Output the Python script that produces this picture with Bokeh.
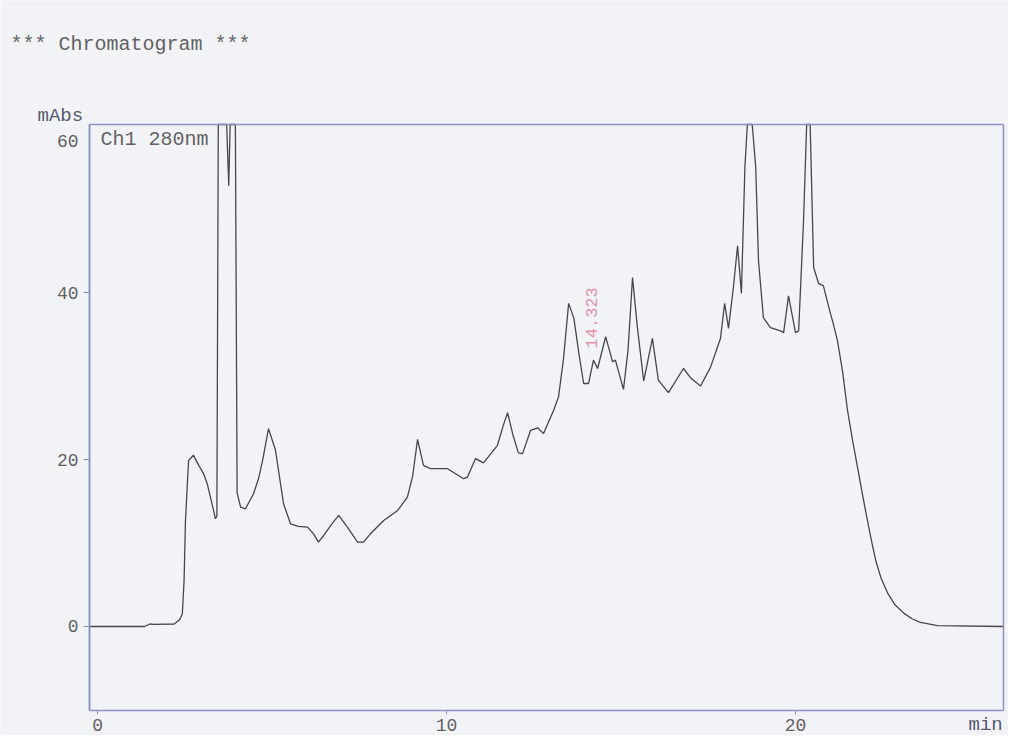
import math
import numpy as np
from bokeh.plotting import figure
from bokeh.models import Label, FixedTicker, Range1d, LinearAxis
from bokeh.embed import file_html
from bokeh.resources import INLINE

# ---- data (time in min, absorbance in mAbs) ----
time_min = [-0.23, 1.35, 1.50, 1.60, 2.20, 2.35, 2.43, 2.48, 2.52, 2.61,
            2.75, 2.90, 3.04, 3.15, 3.24, 3.38, 3.42, 3.46, 3.70, 3.76,
            3.80, 3.95, 4.00, 4.10, 4.24, 4.47, 4.62, 4.73, 4.90, 5.10,
            5.33, 5.53, 5.75, 6.02, 6.19, 6.33, 6.48, 6.70, 6.91, 7.16,
            7.45, 7.62, 7.82, 8.20, 8.60, 8.88, 9.03, 9.17, 9.34, 9.54,
            10.03, 10.49, 10.60, 10.83, 11.06, 11.46, 11.62, 11.75, 11.90, 12.06,
            12.18, 12.41, 12.61, 12.78, 13.07, 13.21, 13.35, 13.50, 13.65, 13.80,
            13.93, 14.07, 14.21, 14.33, 14.56, 14.76, 14.84, 15.07, 15.20, 15.33,
            15.47, 15.65, 15.90, 16.07, 16.36, 16.79, 16.99, 17.28, 17.56, 17.85,
            17.97, 18.08, 18.22, 18.34, 18.45, 18.55, 18.62, 18.76, 18.86, 18.94,
            19.08, 19.28, 19.57, 19.66, 19.80, 20.00, 20.09, 20.23, 20.32, 20.42,
            20.52, 20.66, 20.80, 21.00, 21.06, 21.20, 21.35, 21.49, 21.63, 21.78,
            21.92, 22.06, 22.18, 22.30, 22.45, 22.64, 22.85, 23.10, 23.35, 23.58,
            24.07, 25.96]
absorb_mabs = [0.0, 0.0, 0.3, 0.25, 0.3, 0.8, 1.5, 5.5, 12.7, 19.9,
               20.5, 19.3, 18.3, 17.0, 15.4, 12.9, 13.2, 120.0, 140.0, 52.8,
               140.0, 120.0, 16.0, 14.3, 14.1, 15.9, 17.8, 19.9, 23.7, 21.1,
               14.7, 12.3, 12.0, 11.9, 11.1, 10.1, 10.9, 12.2, 13.3, 11.9,
               10.1, 10.1, 11.1, 12.7, 13.9, 15.5, 18.0, 22.4, 19.3, 18.9,
               18.9, 17.7, 17.9, 20.1, 19.6, 21.7, 24.0, 25.6, 23.0, 20.8,
               20.7, 23.5, 23.8, 23.1, 25.9, 27.5, 32.0, 38.7, 36.9, 32.5,
               29.1, 29.1, 31.9, 30.9, 34.7, 31.7, 31.9, 28.4, 33.0, 41.8,
               35.8, 29.4, 34.5, 29.5, 28.0, 30.9, 29.8, 28.8, 31.0, 34.5,
               38.7, 35.7, 40.6, 45.6, 39.9, 55.0, 90.0, 90.0, 55.0, 43.8,
               37.0, 35.8, 35.4, 35.2, 39.6, 35.2, 35.4, 48.6, 90.0, 90.0,
               43.0, 41.1, 40.8, 37.5, 36.6, 34.3, 30.5, 25.9, 22.4, 19.0,
               15.8, 12.7, 10.2, 7.9, 5.8, 4.0, 2.6, 1.6, 0.9, 0.5,
               0.1, 0.0]

x_ticks = [0, 10, 20]
y_ticks = [0, 20, 40]
y_top_label = "60"
peak_rt = 14.323
peak_label = "14.323"
peak_label_y = 33.3

title_text = "*** Chromatogram ***"
y_unit_text = "mAbs"
x_unit_text = "min"
channel_text = "Ch1 280nm"

# ---- layout / style ----
W, H = 1008, 735
X_LO, X_HI = -0.23, 25.96          # plot box in data units
Y_LO, Y_HI = -10.06, 60.12
BOX_L, BOX_R, BOX_T, BOX_B = 89, 1003, 124, 710   # plot box in pixels
kx = (BOX_R - BOX_L) / (X_HI - X_LO)
ky = (BOX_B - BOX_T) / (Y_HI - Y_LO)
x_range = Range1d(X_LO - BOX_L / kx, X_HI + (W - BOX_R) / kx)
y_range = Range1d(Y_LO - (H - BOX_B) / ky, Y_HI + BOX_T / ky)
# the recorder prints its top scale label ~16 px below the frame corner
top_label_pos = round(Y_HI - 16 / ky, 2)

BG = "#f2f3f7"
FRAME = "#8d90c2"
TXT = "#626262"
FONT = "Liberation Mono"

p = figure(width=W, height=H, output_backend="svg", toolbar_location=None,
           x_range=x_range, y_range=y_range,
           x_axis_type=None, y_axis_type=None,
           min_border_left=0, min_border_right=0,
           min_border_top=0, min_border_bottom=0)
p.background_fill_color = BG
p.border_fill_color = BG
p.outline_line_color = None

# recorder trace (off-scale peaks are clipped at the top of the scale)
p.line(time_min, np.minimum(np.array(absorb_mabs), Y_HI),
       line_color="#474747", line_width=1.3)


def style_axis(ax):
    ax.axis_line_color = FRAME
    ax.axis_line_width = 1.5
    ax.major_tick_line_color = FRAME
    ax.major_tick_in = 0
    ax.minor_tick_line_color = None
    ax.major_label_text_font = FONT
    ax.major_label_text_font_size = "18px"
    ax.major_label_text_color = TXT


left_ax = LinearAxis(fixed_location=X_LO, ticker=FixedTicker(ticks=y_ticks),
                     bounds=(Y_LO, Y_HI))
style_axis(left_ax)
left_ax.major_tick_out = 6
left_ax.major_label_standoff = 5
p.add_layout(left_ax, "left")

left_top_ax = LinearAxis(fixed_location=X_LO, ticker=FixedTicker(ticks=[top_label_pos]),
                         bounds=(Y_LO, Y_HI))
style_axis(left_top_ax)
left_top_ax.major_tick_line_color = None
left_top_ax.major_tick_out = 6
left_top_ax.major_label_standoff = 5
left_top_ax.major_label_overrides = {top_label_pos: y_top_label,
                                     str(top_label_pos): y_top_label}
p.add_layout(left_top_ax, "left")

bottom_ax = LinearAxis(fixed_location=Y_LO, ticker=FixedTicker(ticks=x_ticks),
                       bounds=(X_LO, X_HI))
style_axis(bottom_ax)
bottom_ax.major_tick_out = 4
bottom_ax.major_label_standoff = 4
p.add_layout(bottom_ax, "below")

right_ax = LinearAxis(fixed_location=X_HI, ticker=FixedTicker(ticks=[]),
                      bounds=(Y_LO, Y_HI))
style_axis(right_ax)
right_ax.major_label_text_color = None
right_ax.major_tick_line_color = None
p.add_layout(right_ax, "right")

top_ax = LinearAxis(fixed_location=Y_HI, ticker=FixedTicker(ticks=[]),
                    bounds=(X_LO, X_HI))
style_axis(top_ax)
top_ax.major_label_text_color = None
top_ax.major_tick_line_color = None
p.add_layout(top_ax, "above")

# texts (screen units measured from the bottom-left of the canvas)
p.add_layout(Label(x=10, y=H - 44, x_units="screen", y_units="screen",
                   text=title_text, text_font=FONT, text_font_size="20px",
                   text_color=TXT, text_baseline="middle", text_align="left"))
p.add_layout(Label(x=37, y=H - 115, x_units="screen", y_units="screen",
                   text=y_unit_text, text_font=FONT, text_font_size="19px",
                   text_color="#555a70", text_baseline="middle", text_align="left"))
p.add_layout(Label(x=BOX_L + 11, y=H - 139, x_units="screen", y_units="screen",
                   text=channel_text, text_font=FONT, text_font_size="20px",
                   text_color=TXT, text_baseline="middle", text_align="left"))
p.add_layout(Label(x=968, y=0, x_units="screen", y_units="screen",
                   text=x_unit_text, text_font=FONT, text_font_size="19px",
                   text_color="#555a70", text_baseline="bottom", text_align="left"))
p.add_layout(Label(x=peak_rt, y=peak_label_y, angle=math.pi / 2,
                   text=peak_label, text_font=FONT, text_font_size="17px",
                   text_color="#e38fa8", text_baseline="bottom", text_align="left"))

html = file_html(p, INLINE)
html = html.replace("<body>", '<body style="background:%s">' % BG, 1)
open("out.html", "w").write(html)
